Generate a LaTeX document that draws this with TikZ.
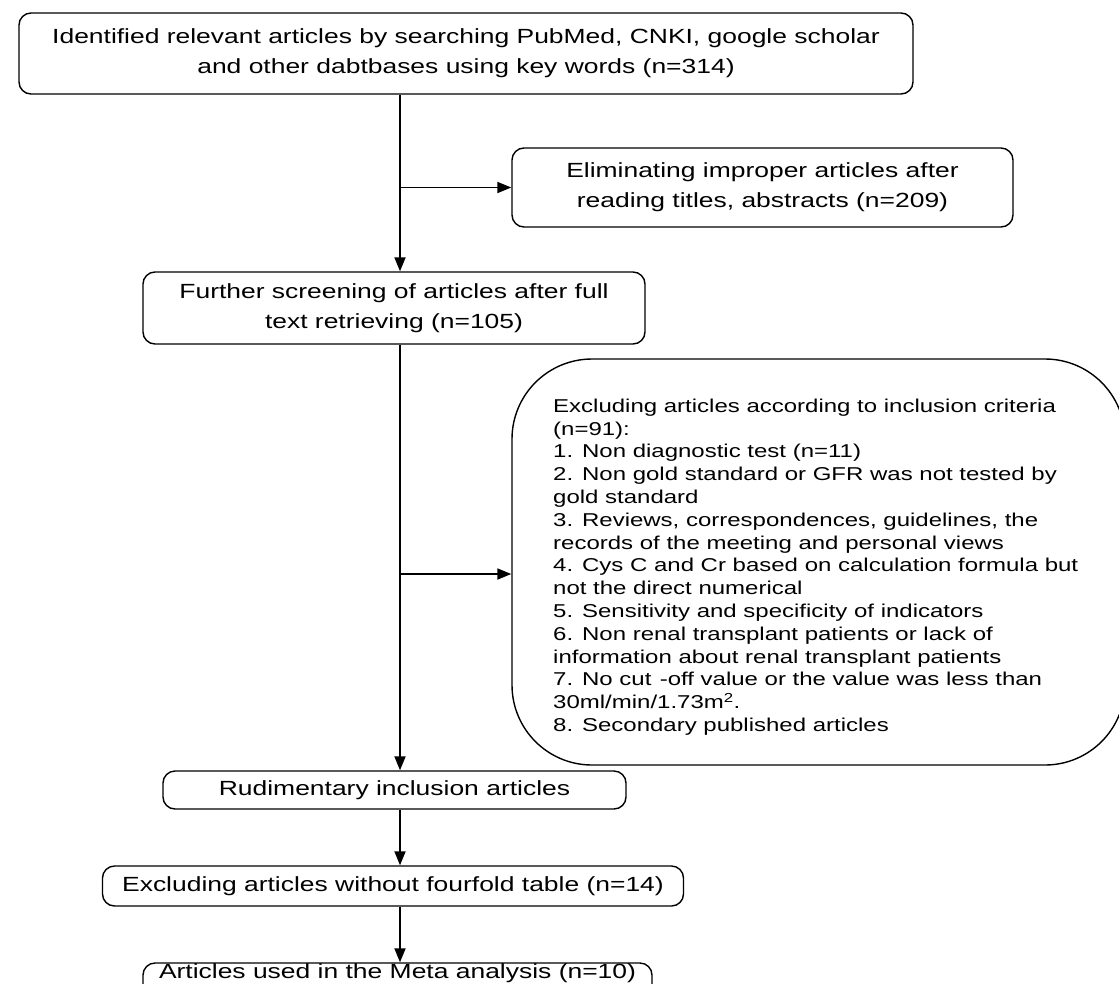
\documentclass[tikz,border=0pt]{standalone}
\usepackage{fontspec}
\setmainfont{Liberation Sans}[FakeStretch=1.29]
\usetikzlibrary{arrows.meta}
\begin{document}
\begin{tikzpicture}[x=1pt,y=-1pt,
  box/.style={draw, line width=1.4pt, rounded corners=12pt, align=center, inner sep=0pt,
    font={\fontsize{20.5}{30}\selectfont}},
  bigbox/.style={draw, line width=1.4pt, rounded corners=80pt, inner sep=0pt},
  listtext/.style={align=left, inner sep=0pt, font={\fontsize{18.6}{22.8}\selectfont}},
  arr/.style={line width=1.8pt, -{Triangle[length=14pt,width=11pt]}}]
\clip (0,0) rectangle (1119,983);
\fill[white] (0,0) rectangle (1119,983);

\node[box, minimum width=894pt, minimum height=81pt] (top) at (466,53.5)
  {Identified relevant articles by searching PubMed, CNKI, google scholar\\and other dabtbases using key words (n=314)};
\node[box, minimum width=501pt, minimum height=79pt] (elim) at (762.5,187.5)
  {Eliminating improper articles after\\reading titles, abstracts (n=209)};
\node[box, minimum width=502pt, minimum height=72pt] (further) at (394,308)
  {Further screening of articles after full\\text retrieving (n=105)};
\node[bigbox, minimum width=613pt, minimum height=406pt] (excl) at (818.5,562) {};
\node[listtext, anchor=west] (excltext) at (553,567)
  {Excluding articles according to inclusion criteria\\
   (n=91):\\
   1. Non diagnostic test (n=11)\\
   2. Non gold standard or GFR was not tested by\\
   gold standard\\
   3. Reviews, correspondences, guidelines, the\\
   records of the meeting and personal views\\
   4. Cys C and Cr based on calculation formula but\\
   not the direct numerical\\
   5. Sensitivity and specificity of indicators\\
   6. Non renal transplant patients or lack of\\
   information about renal transplant patients\\
   7. No cut\hspace{0.45em}-off value or the value was less than\\
   30ml/min/1.73m\textsuperscript{2}.\\
   8. Secondary published articles};
\node[box, minimum width=463pt, minimum height=38pt] (rud) at (394.5,790)
  {Rudimentary inclusion articles};
\node[box, minimum width=581pt, minimum height=40pt] (four) at (393,886)
  {Excluding articles without fourfold table (n=14)};
\node[box, minimum width=509pt, text height=15pt, text depth=25pt] (meta) at (397.5,983)
  {Articles used in the Meta analysis (n=10)};

\coordinate (ax) at (400,0);
\coordinate (b2) at (400,574);
\draw[arr] (top.south -| ax) -- (further.north -| ax);
\draw[arr] (ax |- elim.west) -- (elim.west);
\draw[arr] (further.south -| ax) -- (rud.north -| ax);
\draw[arr] (b2) -- (b2 -| excl.west);
\draw[arr] (rud.south -| ax) -- (four.north -| ax);
\draw[arr] (four.south -| ax) -- (meta.north -| ax);
\end{tikzpicture}
\end{document}
